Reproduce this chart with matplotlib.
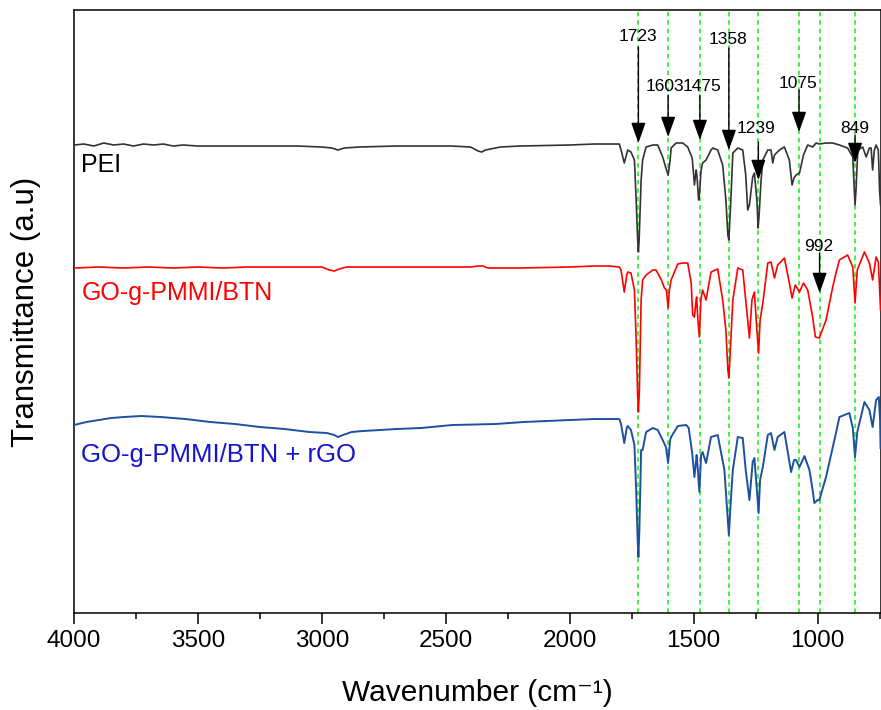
import numpy as np
import matplotlib
matplotlib.use('Agg')
import matplotlib.pyplot as plt
from matplotlib.ticker import MultipleLocator

plt.rcParams['font.family'] = ['Liberation Sans', 'DejaVu Sans']

# FTIR spectra, wavenumber (cm-1) vs transmittance (a.u., stacked)
pei_wn = [4000, 3960, 3920, 3880, 3840, 3800, 3760, 3720, 3680, 3640, 3600, 3560,
          3500, 3400, 3300, 3200, 3100, 3000, 2960, 2935, 2910, 2850, 2700, 2600,
          2480, 2400, 2370, 2355, 2340, 2320, 2280, 2200, 2000, 1900, 1840, 1800,
          1793, 1780, 1766, 1753, 1739, 1732, 1726, 1723, 1720, 1712, 1706, 1692,
          1665, 1645, 1625, 1612, 1603, 1595, 1591, 1571, 1544, 1524, 1506, 1500,
          1497, 1490, 1487, 1480, 1477, 1470, 1464, 1450, 1430, 1423, 1403, 1383,
          1370, 1362, 1358, 1350, 1342, 1322, 1302, 1290, 1282, 1275, 1262, 1255,
          1245, 1240, 1236, 1228, 1221, 1201, 1188, 1181, 1174, 1154, 1134, 1114,
          1103, 1095, 1087, 1073, 1057, 1040, 1020, 1006, 993, 966, 939, 912,
          879, 858, 852, 849, 845, 838, 818, 804, 791, 784, 778, 771, 764, 755,
          750, 746]
pei_t = [468, 469, 467, 470, 468, 469, 467, 469, 468, 469, 467, 468,
         467, 467, 467, 467, 467, 466, 465, 463, 465, 466, 467, 467,
         467, 466, 462, 461, 463, 464, 466, 467, 468, 469, 469, 469,
         463, 450, 463, 461, 453, 413, 373, 361, 373, 433, 453, 466,
         468, 468, 456, 445, 438, 453, 465, 470, 470, 466, 455, 438,
         428, 443, 438, 413, 418, 443, 450, 453, 463, 465, 463, 448,
         413, 378, 373, 413, 460, 465, 463, 438, 403, 408, 436, 440,
         413, 385, 398, 433, 453, 463, 463, 450, 458, 463, 466, 453,
         428, 435, 438, 440, 458, 468, 466, 470, 469, 470, 470, 468,
         465, 456, 423, 408, 423, 463, 466, 456, 465, 465, 443, 463, 468, 463,
         423, 408]

red_wn = [4000, 3900, 3800, 3700, 3600, 3500, 3400, 3300, 3200, 3100, 3000,
          2970, 2950, 2930, 2900, 2800, 2600, 2400, 2370, 2350, 2330, 2200,
          2000, 1900, 1840, 1800, 1793, 1780, 1770, 1766, 1753, 1739, 1732,
          1726, 1723, 1719, 1712, 1706, 1692, 1665, 1652, 1630, 1618, 1610,
          1603, 1598, 1591, 1564, 1544, 1524, 1510, 1504, 1497, 1490, 1488,
          1483, 1477, 1471, 1464, 1450, 1430, 1403, 1383, 1370, 1362, 1358,
          1350, 1342, 1322, 1302, 1290, 1275, 1265, 1255, 1245, 1238, 1232,
          1221, 1201, 1188, 1174, 1161, 1134, 1114, 1103, 1090, 1073, 1057,
          1040, 1020, 1009, 993, 966, 939, 925, 912, 879, 858, 849, 840,
          811, 791, 778, 764, 755, 746]
red_t = [345, 346, 345, 346, 345, 346, 345, 346, 346, 346, 346,
         343, 342, 344, 346, 346, 346, 346, 347, 347, 345, 345,
         346, 347, 347, 346, 343, 321, 338, 341, 340, 323, 273,
         218, 201, 223, 313, 333, 338, 343, 343, 333, 325, 323,
         305, 323, 333, 349, 350, 350, 330, 298, 296, 313, 316,
         293, 276, 313, 323, 313, 341, 344, 313, 283, 243, 235,
         273, 313, 345, 343, 313, 275, 313, 321, 283, 260, 293,
         310, 350, 351, 335, 348, 355, 330, 315, 328, 321, 330,
         323, 296, 276, 275, 293, 326, 341, 353, 358, 346, 310, 343,
         361, 350, 333, 356, 351, 303]

blue_wn = [4000, 3950, 3900, 3850, 3800, 3728, 3650, 3550, 3450, 3350, 3250,
           3150, 3050, 2980, 2950, 2935, 2915, 2880, 2834, 2700, 2600, 2474,
           2300, 2187, 2000, 1900, 1800, 1793, 1780, 1770, 1766, 1753, 1739,
           1732, 1726, 1723, 1719, 1712, 1706, 1692, 1665, 1645, 1625, 1612,
           1603, 1595, 1591, 1564, 1530, 1520, 1506, 1497, 1490, 1488, 1483,
           1477, 1470, 1464, 1450, 1430, 1403, 1376, 1365, 1358, 1350, 1342,
           1322, 1302, 1290, 1275, 1262, 1255, 1245, 1238, 1232, 1221, 1201,
           1188, 1174, 1161, 1134, 1107, 1095, 1087, 1073, 1053, 1033, 1020,
           1013, 1000, 993, 966, 925, 912, 872, 858, 849, 840, 811, 791, 778,
           764, 753, 748, 746]
blue_t = [188, 191, 193, 195, 196, 197, 196, 194, 191, 189, 186,
          184, 181, 180, 178, 176, 178, 181, 182, 184, 185, 188,
          189, 191, 193, 194, 194, 189, 170, 185, 187, 183, 168,
          123, 73, 56, 83, 163, 163, 181, 185, 183, 173, 166,
          150, 173, 176, 187, 188, 185, 160, 136, 153, 158, 143,
          121, 158, 161, 150, 176, 178, 143, 103, 78, 113, 143,
          176, 175, 143, 113, 151, 155, 123, 100, 133, 146, 178,
          180, 163, 176, 181, 141, 153, 153, 146, 157, 143, 123,
          110, 113, 113, 136, 181, 196, 200, 185, 156, 181, 211, 203, 186,
          213, 216, 193, 165]

# marked bands: arrow tail / tip heights and label placement
peaks = [1723, 1603, 1475, 1358, 1239, 1075, 992, 849]
peak_labels = ['1723', '1603', '1475', '1358', '1239', '1075', '992', '849']
label_x = [1725, 1614, 1465, 1360, 1248, 1081, 995, 849]
label_y = [577, 527, 527, 574, 485, 530, 367, 485]
tail_y = [566, 518, 518, 565, 471, 523, 360, 478]
tip_y = [470, 476, 473, 463, 433, 481, 320, 450]

fig = plt.figure(figsize=(8.81, 7.10), dpi=100)
ax = fig.add_axes([0.084, 0.1366, 0.9155, 0.8493])

for wn in peaks:
    ax.axvline(wn, color='#11ee11', lw=1.1, ls=(0, (3, 2.5)), zorder=1)

ax.plot(pei_wn, pei_t, color='#333333', lw=1.2, zorder=3)
ax.plot(red_wn, red_t, color='#ff0000', lw=1.2, zorder=3)
ax.plot(blue_wn, blue_t, color='#1f50a0', lw=1.4, zorder=3)

for wn, lab, lx, ly, ty, hy in zip(peaks, peak_labels, label_x, label_y, tail_y, tip_y):
    ax.annotate('', xy=(wn, hy), xytext=(wn, ty),
                arrowprops=dict(arrowstyle='-|>,head_length=0.9,head_width=0.32',
                                color='black', lw=1.0, mutation_scale=14,
                                shrinkA=0, shrinkB=0), zorder=4)
    ax.text(lx, ly, lab, ha='center', va='center', fontsize=12.5, zorder=5)

ax.text(3970, 448, 'PEI', color='black', fontsize=18, va='center', ha='left')
ax.text(3970, 320, 'GO-g-PMMI/BTN', color='#ff0000', fontsize=18, va='center', ha='left')
ax.text(3970, 158, 'GO-g-PMMI/BTN + rGO', color='#1515cc', fontsize=18.5,
        va='center', ha='left')

ax.set_xlim(4000, 746)
ax.set_ylim(0, 603)
ax.xaxis.set_major_locator(MultipleLocator(500))
ax.xaxis.set_minor_locator(MultipleLocator(250))
ax.set_yticks([])
ax.tick_params(axis='x', which='major', length=8, width=1.1, labelsize=17.5, pad=4)
ax.tick_params(axis='x', which='minor', length=4.5, width=1.1)
for s in ax.spines.values():
    s.set_linewidth(1.1)

ax.set_xlabel('Wavenumber (cm\u207b\u00b9)', fontsize=21.5, labelpad=20)
ax.set_ylabel('Transmittance (a.u)', fontsize=22.5, labelpad=24)

fig.savefig('out.png', dpi=100)
